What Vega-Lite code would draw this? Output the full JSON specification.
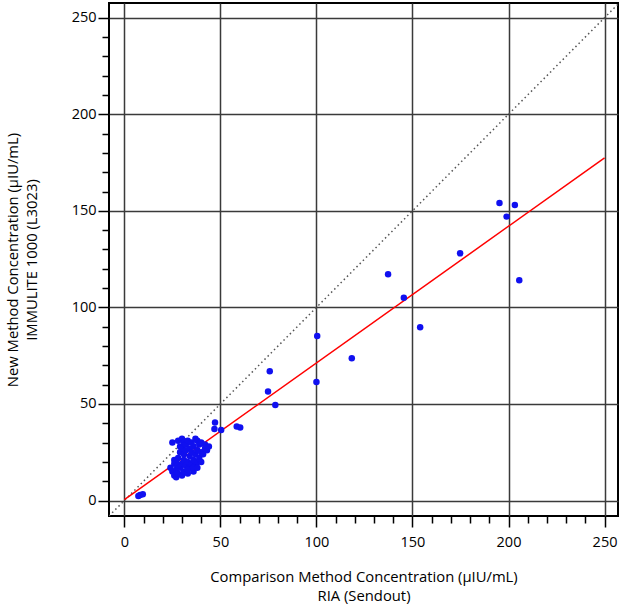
{
  "$schema": "https://vega.github.io/schema/vega-lite/v6.json",
  "width": 509,
  "height": 513,
  "autosize": {"type": "none"},
  "padding": {"left": 109, "top": 3, "right": 6, "bottom": 90},
  "config": {
    "view": {"stroke": "#000", "strokeWidth": 2},
    "font": "Open Sans"
  },
  "datasets": {
    "identity": [{"x": -8, "y": -8}, {"x": 257, "y": 257}],
    "fit": [{"x": 0, "y": 0.5}, {"x": 250, "y": 177.4}],
    "samples": [
      {"x": 195.3, "y": 154.1}, {"x": 203.3, "y": 153}, {"x": 199, "y": 147},
      {"x": 174.8, "y": 128}, {"x": 205.6, "y": 114}, {"x": 137.3, "y": 117.2},
      {"x": 145.5, "y": 105}, {"x": 154, "y": 89.7}, {"x": 100.4, "y": 85.2},
      {"x": 118.4, "y": 73.7}, {"x": 100, "y": 61.4}, {"x": 75.7, "y": 67},
      {"x": 74.8, "y": 56.4}, {"x": 78.6, "y": 49.5}, {"x": 58.5, "y": 38.3},
      {"x": 60.3, "y": 37.8}, {"x": 47.2, "y": 40.4}, {"x": 46.9, "y": 37.1},
      {"x": 50.4, "y": 36.5}, {"x": 8.2, "y": 2.9}, {"x": 9.6, "y": 3.3},
      {"x": 7.3, "y": 2.4},
      {"x": 24, "y": 17}, {"x": 25, "y": 15}, {"x": 25, "y": 30}, {"x": 26, "y": 13},
      {"x": 26, "y": 19}, {"x": 27, "y": 12}, {"x": 27, "y": 16}, {"x": 28, "y": 14},
      {"x": 28, "y": 22}, {"x": 28, "y": 31}, {"x": 29, "y": 17}, {"x": 29, "y": 25},
      {"x": 29, "y": 28}, {"x": 30, "y": 13}, {"x": 30, "y": 19}, {"x": 30, "y": 27},
      {"x": 30, "y": 32}, {"x": 31, "y": 15}, {"x": 31, "y": 21}, {"x": 31, "y": 24},
      {"x": 31, "y": 30}, {"x": 32, "y": 18}, {"x": 32, "y": 26}, {"x": 32, "y": 29},
      {"x": 33, "y": 14}, {"x": 33, "y": 20}, {"x": 33, "y": 31}, {"x": 34, "y": 17},
      {"x": 34, "y": 23}, {"x": 34, "y": 27}, {"x": 35, "y": 19}, {"x": 35, "y": 25},
      {"x": 35, "y": 30}, {"x": 36, "y": 15}, {"x": 36, "y": 21}, {"x": 36, "y": 28},
      {"x": 37, "y": 18}, {"x": 37, "y": 24}, {"x": 37, "y": 32}, {"x": 38, "y": 20},
      {"x": 38, "y": 26}, {"x": 38, "y": 31}, {"x": 39, "y": 22}, {"x": 39, "y": 29},
      {"x": 40, "y": 25}, {"x": 40, "y": 30}, {"x": 41, "y": 24}, {"x": 42, "y": 27},
      {"x": 42, "y": 29}, {"x": 43, "y": 26}, {"x": 44, "y": 28}, {"x": 36, "y": 17},
      {"x": 33, "y": 16}, {"x": 28, "y": 18}, {"x": 27, "y": 20}, {"x": 40, "y": 20},
      {"x": 38, "y": 17}, {"x": 26, "y": 21}
    ]
  },
  "encoding": {
    "x": {
      "field": "x",
      "type": "quantitative",
      "scale": {"domain": [-8, 257], "nice": false, "zero": false},
      "axis": {
        "title": ["Comparison Method Concentration (µIU/mL)", "RIA (Sendout)"],
        "titleFont": "Open Sans",
        "titleFontSize": 14.8,
        "titleFontWeight": "normal",
        "titleColor": "#000",
        "titleLineHeight": 19,
        "titlePadding": 21,
        "values": [0, 10, 20, 30, 40, 50, 60, 70, 80, 90, 100, 110, 120, 130, 140, 150, 160, 170, 180, 190, 200, 210, 220, 230, 240, 250],
        "labelExpr": "datum.value % 50 === 0 ? datum.label : ''",
        "labelOverlap": false,
        "labelFlush": false,
        "labelFontSize": 14.5,
        "labelColor": "#000",
        "labelPadding": 8,
        "domain": false,
        "tickColor": "#000",
        "tickWidth": 1.5,
        "tickSize": {"condition": {"test": "datum.value % 50 === 0", "value": 11}, "value": 7},
        "grid": true,
        "gridColor": "#3a3a3a",
        "gridWidth": 1.5,
        "gridOpacity": {"condition": {"test": "datum.value % 50 === 0", "value": 1}, "value": 0}
      }
    },
    "y": {
      "field": "y",
      "type": "quantitative",
      "scale": {"domain": [-8, 257.6], "nice": false, "zero": false},
      "axis": {
        "title": ["New Method Concentration (µIU/mL)", "IMMULITE 1000 (L3023)"],
        "titleFont": "Open Sans",
        "titleFontSize": 14.8,
        "titleFontWeight": "normal",
        "titleColor": "#000",
        "titleLineHeight": 19,
        "titlePadding": 32,
        "values": [0, 10, 20, 30, 40, 50, 60, 70, 80, 90, 100, 110, 120, 130, 140, 150, 160, 170, 180, 190, 200, 210, 220, 230, 240, 250],
        "labelExpr": "datum.value % 50 === 0 ? datum.label : ''",
        "labelOverlap": false,
        "labelFlush": false,
        "labelFontSize": 14.5,
        "labelColor": "#000",
        "labelPadding": 2,
        "domain": false,
        "tickColor": "#000",
        "tickWidth": 1.5,
        "tickSize": {"condition": {"test": "datum.value % 50 === 0", "value": 11}, "value": 7},
        "grid": true,
        "gridColor": "#3a3a3a",
        "gridWidth": 1.5,
        "gridOpacity": {"condition": {"test": "datum.value % 50 === 0", "value": 1}, "value": 0}
      }
    }
  },
  "layer": [
    {
      "data": {"name": "identity"},
      "mark": {"type": "line", "color": "#555", "strokeWidth": 1.5, "strokeDash": [1.5, 3], "clip": true}
    },
    {
      "data": {"name": "fit"},
      "mark": {"type": "line", "color": "#ff0000", "strokeWidth": 1.5, "clip": true}
    },
    {
      "data": {"name": "samples"},
      "mark": {"type": "circle", "color": "#1010f0", "opacity": 1, "size": 42}
    }
  ]
}
